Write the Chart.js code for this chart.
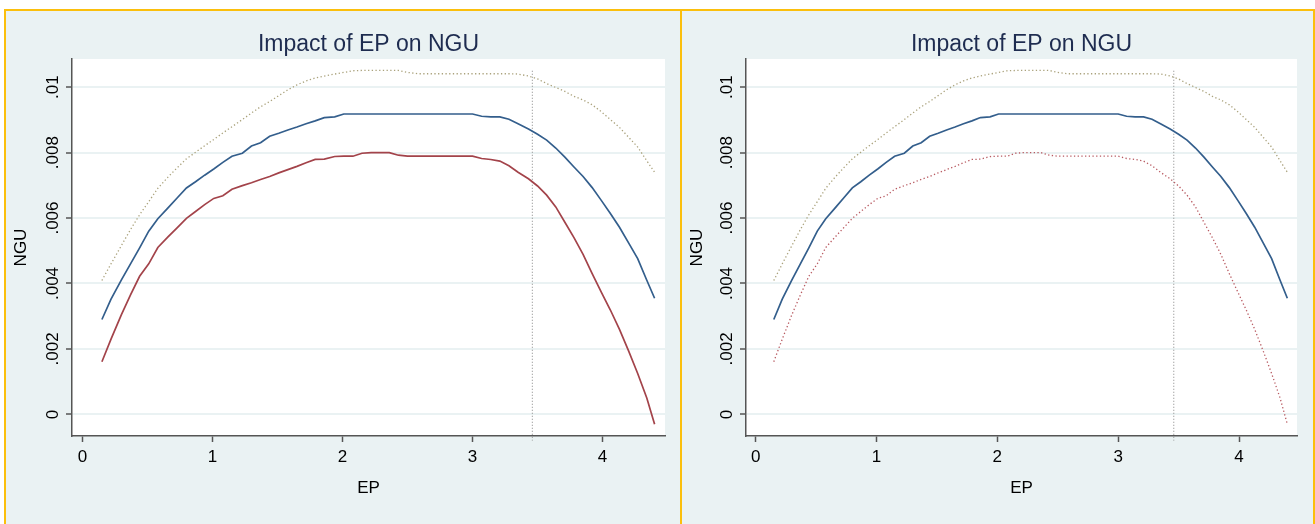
<!DOCTYPE html>
<html>
<head>
<meta charset="utf-8">
<script src="https://cdn.jsdelivr.net/npm/chart.js@4.4.1/dist/chart.umd.min.js"></script>
<style>
  html, body { margin: 0; padding: 0; background: #fff; }
  body { width: 1315px; height: 524px; position: relative; overflow: hidden; }
  #frame { position: absolute; left: 4px; top: 9px; width: 1311px; height: 515px; background: #fbbf0c; }
  .panel { position: absolute; top: 11px; height: 513px; background: #eaf2f3; }
  #leftPanel { left: 6px; width: 674px; }
  #rightPanel { left: 682px; width: 631px; }
  canvas { display: block; }
</style>
</head>
<body>
<div id="frame"></div>
<div class="panel" id="leftPanel"><canvas id="leftChart" width="674" height="513"></canvas></div>
<div class="panel" id="rightPanel"><canvas id="rightChart" width="631" height="513"></canvas></div>
<script>
// EP grid the margins were evaluated at
const epValues = [0.15, 0.22, 0.30, 0.37, 0.44, 0.51, 0.58, 0.66, 0.73, 0.80,
  0.87, 0.94, 1.01, 1.08, 1.15, 1.23, 1.30, 1.37, 1.44, 1.51,
  1.58, 1.65, 1.72, 1.79, 1.86, 1.94, 2.01, 2.08, 2.15, 2.22,
  2.29, 2.36, 2.43, 2.50, 2.58, 2.65, 2.72, 2.79, 2.86, 2.93,
  3.00, 3.07, 3.14, 3.21, 3.28, 3.35, 3.43, 3.50, 3.57, 3.64,
  3.71, 3.78, 3.85, 3.92, 3.99, 4.06, 4.13, 4.20, 4.27, 4.34, 4.40];

// predicted NGU
const nguValues = [.00290, .00352, .00411, .00460, .00509, .00560, .00598, .00632, .00662, .00692,
  .00711, .00731, .00750, .00770, .00789, .00798, .00820, .00830, .00850, .00859,
  .00869, .00878, .00888, .00897, .00907, .00909, .00918, .00918, .00918, .00918,
  .00918, .00918, .00918, .00918, .00918, .00918, .00918, .00918, .00918, .00918,
  .00918, .00911, .00909, .00909, .00902, .00888, .00872, .00856, .00838, .00814,
  .00786, .00756, .00727, .00693, .00654, .00614, .00572, .00524, .00476, .00410, .00355];

// lower bound
const lowerValues = [.00161, .00230, .00305, .00365, .00422, .00460, .00510, .00543, .00571, .00599,
  .00620, .00641, .00660, .00668, .00688, .00699, .00708, .00718, .00727, .00738,
  .00748, .00758, .00769, .00779, .00780, .00788, .00789, .00789, .00798, .00800,
  .00800, .00800, .00792, .00789, .00789, .00789, .00789, .00789, .00789, .00789,
  .00789, .00782, .00779, .00774, .00760, .00740, .00720, .00698, .00670, .00634,
  .00587, .00540, .00489, .00430, .00374, .00319, .00260, .00194, .00125, .00050, -.00030];

// upper bound
const upperValues = [.00409, .00460, .00516, .00565, .00610, .00650, .00691, .00726, .00754, .00781,
  .00801, .00821, .00840, .00860, .00879, .00901, .00921, .00940, .00956, .00974,
  .00992, .01007, .01019, .01028, .01034, .01040, .01045, .01050, .01051, .01051,
  .01051, .01051, .01051, .01045, .01041, .01041, .01041, .01041, .01041, .01041,
  .01041, .01041, .01041, .01041, .01041, .01040, .01034, .01025, .01011, .00999,
  .00987, .00972, .00961, .00946, .00925, .00901, .00877, .00847, .00817, .00775, .00740];

const refLineEP = 3.46;
const refLineSpan = [0.0105, -0.0008];

const xTicks = [0, 1, 2, 3, 4];
const yTicks = [0, 0.002, 0.004, 0.006, 0.008, 0.01];
const yTickLabels = ['0', '.002', '.004', '.006', '.008', '.01'];

Chart.defaults.font.family = '"Liberation Sans", Arial, Helvetica, sans-serif';

const plotBg = {
  id: 'plotBg',
  beforeDraw(chart) {
    const { ctx, chartArea: a } = chart;
    ctx.save();
    ctx.fillStyle = '#ffffff';
    ctx.fillRect(a.left, a.top, a.right - a.left, a.bottom - a.top);
    ctx.restore();
  }
};

function pts(ys) {
  return epValues.map((x, i) => ({ x: x, y: ys[i] }));
}

function makeChart(id, lowerDotted, yWidth, rightPad) {
  const lowerStyle = lowerDotted
    ? { borderColor: '#b85a61', borderWidth: 1.3, borderDash: [1.3, 2.4] }
    : { borderColor: '#a3434a', borderWidth: 1.7 };
  return new Chart(document.getElementById(id), {
    type: 'line',
    data: {
      datasets: [
        { data: pts(nguValues), borderColor: '#335e8c', borderWidth: 1.7 },
        Object.assign({ data: pts(lowerValues) }, lowerStyle),
        { data: pts(upperValues), borderColor: '#aaa27c', borderWidth: 1.3, borderDash: [1.3, 2.4] },
        { data: refLineSpan.map(y => ({ x: refLineEP, y: y })), borderColor: '#8f8f8f',
          borderWidth: 1.1, borderDash: [1, 2], clip: 8 }
      ]
    },
    options: {
      responsive: false,
      animation: false,
      layout: { padding: { left: 0, right: rightPad, top: 0, bottom: 0 } },
      elements: { point: { radius: 0 }, line: { tension: 0 } },
      plugins: {
        legend: { display: false },
        tooltip: { enabled: false },
        title: {
          display: true, text: 'Impact of EP on NGU', fullSize: false,
          color: '#1e2c50', font: { size: 23, weight: 'normal' },
          padding: { top: 20, bottom: 0.4 }
        }
      },
      scales: {
        x: {
          type: 'linear', min: -0.08, max: 4.48,
          afterBuildTicks: s => { s.ticks = xTicks.map(v => ({ value: v })); },
          afterFit: s => { s.height = 88; },
          grid: { drawOnChartArea: false, tickLength: 6, tickColor: '#555', tickWidth: 1.5 },
          border: { color: '#555', width: 1.5 },
          ticks: { color: '#000', font: { size: 17 }, padding: 5, maxRotation: 0 },
          title: { display: true, text: 'EP', color: '#000', font: { size: 17 }, padding: { bottom: 25 } }
        },
        y: {
          type: 'linear', min: -0.00066, max: 0.01086,
          afterBuildTicks: s => { s.ticks = yTicks.map(v => ({ value: v })); },
          afterFit: s => { s.width = yWidth; },
          grid: { color: '#eaf2f3', lineWidth: 2, tickLength: 6, tickColor: '#555', tickWidth: 1.5 },
          border: { color: '#555', width: 1.5 },
          ticks: {
            color: '#000', font: { size: 17 }, minRotation: 90, maxRotation: 90,
            crossAlign: 'center', padding: -4,
            callback: v => yTickLabels[yTicks.indexOf(v)]
          },
          title: { display: true, text: 'NGU', color: '#000', font: { size: 17 }, padding: { top: 5 } }
        }
      }
    },
    plugins: [plotBg]
  });
}

makeChart('leftChart', false, 66, 15);
makeChart('rightChart', true, 64, 16);
</script>
</body>
</html>
